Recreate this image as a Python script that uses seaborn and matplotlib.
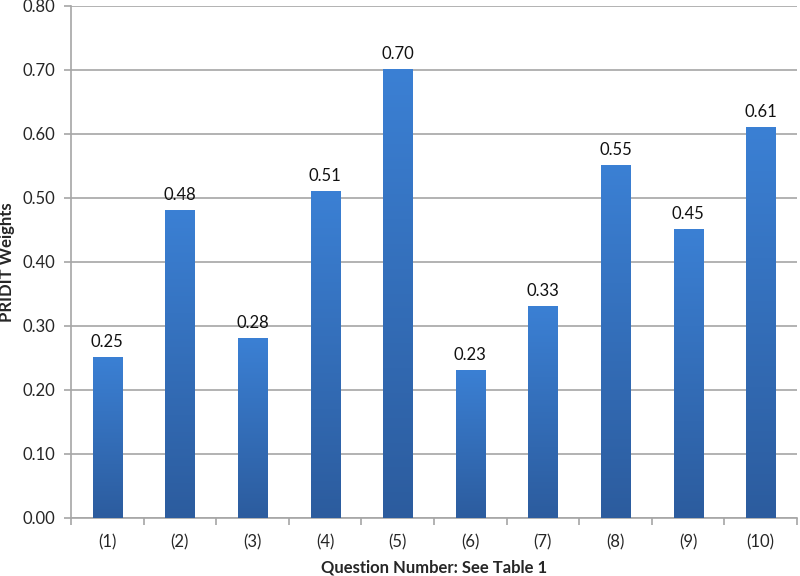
import matplotlib
matplotlib.use("Agg")
import matplotlib.pyplot as plt
import seaborn as sns
import numpy as np
import pandas as pd
from matplotlib.colors import LinearSegmentedColormap
from matplotlib.ticker import FixedLocator

categories = ["(1)", "(2)", "(3)", "(4)", "(5)", "(6)", "(7)", "(8)", "(9)", "(10)"]
weights = [0.25, 0.48, 0.28, 0.51, 0.70, 0.23, 0.33, 0.55, 0.45, 0.61]
yticks = [0.0, 0.1, 0.2, 0.3, 0.4, 0.5, 0.6, 0.7, 0.8]

sns.set_style("white")
plt.rcParams['font.family'] = ['Lato', 'DejaVu Sans']

df = pd.DataFrame({"q": categories, "w": weights})
fig = plt.figure(figsize=(8, 5.76), dpi=100)
ax = fig.add_axes([0.08875, 0.1007, 0.9075, 0.8889])

sns.barplot(data=df, x="q", y="w", ax=ax, width=0.4, color="#3470c0", zorder=3)

cmap = LinearSegmentedColormap.from_list("g", ["#2c5c9e", "#3b80d4"])
grad = np.linspace(0, 1, 256).reshape(-1, 1)
for p in ax.patches:
    x0, w, h = p.get_x(), p.get_width(), p.get_height()
    ax.imshow(grad, extent=[x0, x0 + w, 0, h], origin="lower", cmap=cmap,
              aspect="auto", zorder=3)
    p.set_visible(False)
    ax.text(x0 + w / 2, h + 0.012, f"{h:.2f}", ha="center", va="bottom",
            fontsize=12, color="#111111", zorder=4)

ax.set_ylim(0, 0.8)
ax.set_xlim(-0.5, len(categories) - 0.5)

ax.set_yticks(yticks)
ax.set_yticklabels([f"{v:.2f}" for v in yticks])
ax.yaxis.grid(True, color="#a6a6a6", linewidth=1.2, zorder=0)
ax.set_axisbelow(True)

ax.xaxis.set_minor_locator(FixedLocator(np.arange(-0.5, len(categories), 1.0)))
ax.tick_params(axis="x", which="major", length=0, pad=12, labelsize=12)
ax.tick_params(axis="x", which="minor", length=5, width=1.2, color="#a6a6a6",
               direction="out", bottom=True)
ax.tick_params(axis="y", which="major", length=5, width=1.2, color="#a6a6a6",
               direction="out", left=True, labelsize=12, pad=6)

for s in ["top", "right"]:
    ax.spines[s].set_visible(False)
for s in ["left", "bottom"]:
    ax.spines[s].set_color("#a6a6a6")
    ax.spines[s].set_linewidth(1.2)

ax.set_xlabel("Question Number: See Table 1", fontsize=12, fontweight="bold",
              labelpad=6)
ax.set_ylabel("PRIDIT Weights", fontsize=12, fontweight="bold", labelpad=6)

fig.savefig("out.png", dpi=100)
